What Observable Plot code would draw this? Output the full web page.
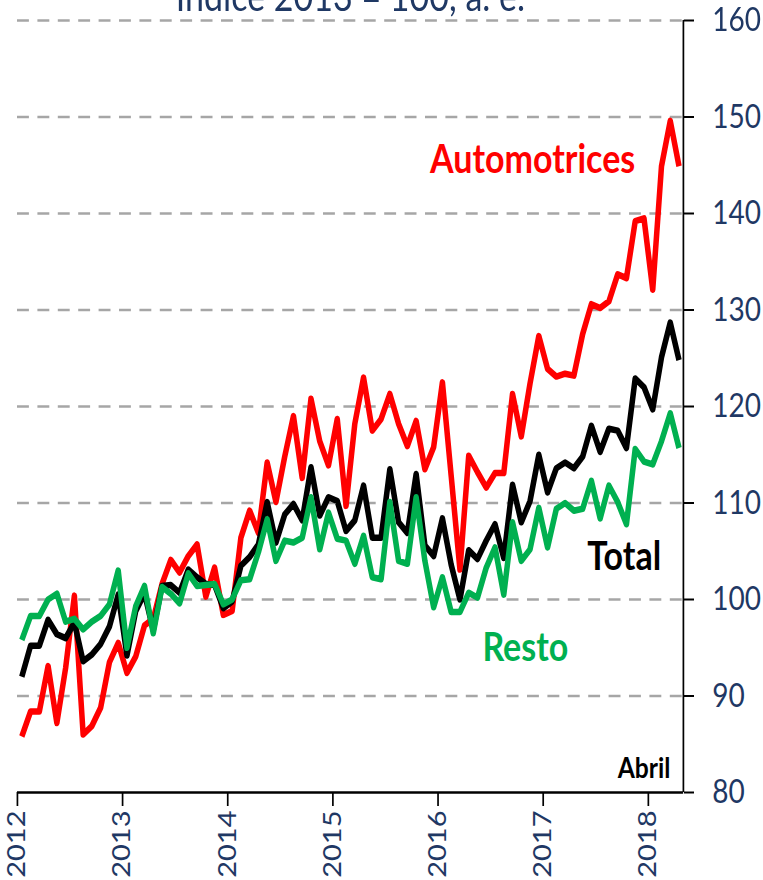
<!DOCTYPE html>
<html>
<head>
<meta charset="utf-8">
<script src="https://cdn.jsdelivr.net/npm/d3@7"></script>
<script src="https://cdn.jsdelivr.net/npm/@observablehq/plot@0.6"></script>
<style>
  html, body { margin: 0; padding: 0; background: white; overflow: hidden; }
  #wrap { transform: scaleX(0.85); transform-origin: 0 0; width: 898px; }
  [aria-label="y-axis tick label"], [aria-label="x-axis tick label"] { fill: #1f3864; }
</style>
</head>
<body>
<div id="wrap"></div>
<script>
const title = "Índice 2013 = 100, a. e.";
const startYear = 2012;
const years = [2012, 2013, 2014, 2015, 2016, 2017, 2018];
const yTicks = [80, 90, 100, 110, 120, 130, 140, 150, 160];
const gridValues = [90, 100, 110, 120, 130, 140, 150, 160];

// Monthly values Jan 2012 – Apr 2018
const automotrices = [
  85.8, 88.4, 88.4, 93.1, 87.2, 92.9, 100.4, 86.0, 86.9, 88.8, 93.5, 95.5,
  92.4, 94.1, 97.3, 98.0, 101.6, 104.1, 102.8, 104.5, 105.7, 100.3, 103.3, 98.4,
  98.8, 106.4, 109.2, 106.9, 114.2, 110.1, 114.8, 119.0, 112.6, 120.8, 116.4, 113.9,
  118.7, 109.7, 118.2, 123.0, 117.5, 118.7, 121.3, 118.2, 115.9, 118.5, 113.5, 115.8,
  122.5, 112.8, 103.1, 114.9, 113.2, 111.6, 113.1, 113.1, 121.3, 116.9, 122.4, 127.3,
  123.9, 123.1, 123.4, 123.2, 127.5, 130.6, 130.2, 130.9, 133.7, 133.3, 139.2, 139.5,
  132.1, 144.9, 149.6, 144.9
];
const total = [
  92.0, 95.2, 95.2, 97.9, 96.4, 96.0, 97.6, 93.6, 94.3, 95.4, 97.2, 100.5,
  94.2, 98.8, 100.6, 96.8, 101.4, 101.5, 100.7, 103.1, 102.3, 101.6, 101.5, 99.1,
  99.8, 103.5, 104.4, 105.7, 110.1, 105.9, 108.8, 109.9, 108.2, 113.7, 108.7, 110.6,
  110.2, 107.1, 108.2, 111.8, 106.4, 106.4, 113.5, 108.0, 106.9, 113.0, 105.6, 104.5,
  108.4, 103.6, 100.0, 105.1, 104.2, 106.1, 107.8, 104.3, 111.9, 108.0, 110.2, 115.0,
  111.1, 113.6, 114.2, 113.6, 114.8, 118.0, 115.3, 117.7, 117.5, 115.7, 122.9, 122.0,
  119.7, 125.1, 128.7, 124.8
];
const resto = [
  95.8, 98.3, 98.3, 100.0, 100.6, 97.7, 98.0, 96.9, 97.7, 98.3, 99.5, 103.0,
  95.0, 99.3, 101.4, 96.5, 101.3, 100.6, 99.6, 102.7, 101.4, 101.5, 101.6, 99.5,
  100.0, 102.0, 102.1, 104.9, 108.3, 104.0, 106.1, 105.9, 106.4, 110.6, 105.2, 109.0,
  106.3, 106.1, 103.7, 106.6, 102.3, 102.1, 110.1, 104.0, 103.7, 110.6, 104.0, 99.2,
  102.3, 98.7, 98.7, 100.7, 100.2, 103.3, 105.4, 100.5, 108.0, 104.0, 105.2, 109.5,
  105.4, 109.4, 110.0, 109.2, 109.4, 112.3, 108.4, 111.8, 110.1, 107.8, 115.6, 114.3,
  114.0, 116.4, 119.3, 115.7
];

const seriesNames = ["Automotrices", "Total", "Resto"];
const seriesColors = ["#ff0000", "#000000", "#00b050"];
const seriesValues = [automotrices, total, resto];

const labelNames = ["Automotrices", "Total", "Resto", "Abril"];
const labelX = [2016.90, 2017.77, 2016.83, 2018.21];
const labelY = [145.5, 104.35, 95.0, 82.5];
const labelColors = ["#ff0000", "#000000", "#00b050", "#000000"];

const nMonths = automotrices.length;
const xMax = startYear + nMonths / 12;
const rows = [];
seriesValues.forEach((vals, s) => vals.forEach((v, i) => rows.push({
  series: seriesNames[s], x: startYear + (i + 0.5) / 12, y: v
})));
const labels = labelNames.map((t, i) => ({text: t, x: labelX[i], y: labelY[i], color: labelColors[i], big: t !== "Abril"}));

const chart = Plot.plot({
  width: 898,
  height: 880,
  marginLeft: 20,
  marginRight: 94.5,
  marginTop: 20,
  marginBottom: 88,
  style: {fontFamily: "Lato, 'Open Sans', sans-serif", background: "white", overflow: "visible"},
  x: {domain: [startYear, xMax]},
  y: {domain: [80, 160]},
  color: {domain: seriesNames, range: seriesColors},
  marks: [
    Plot.ruleY(gridValues, {stroke: "#a6a6a6", strokeWidth: 2.5, strokeDasharray: "14,10"}),
    Plot.line(rows, {x: "x", y: "y", z: "series", stroke: "series", strokeWidth: 6.5, strokeLinejoin: "round", strokeLinecap: "butt"}),
    Plot.ruleX([xMax], {stroke: "black", strokeWidth: 2}),
    Plot.ruleY([80], {stroke: "black", strokeWidth: 2.5}),
    Plot.axisY({anchor: "right", ticks: yTicks, tickSize: 12, tickPadding: 22, fontSize: 33, stroke: "black", fill: "#1f3864", strokeWidth: 2, label: null}),
    Plot.axisX({ticks: years, tickFormat: d => String(d), tickRotate: -90, tickSize: 14, tickPadding: 4, fontSize: 29, stroke: "black", fill: "#1f3864", strokeWidth: 2, label: null}),
    Plot.text([title], {frameAnchor: "top", lineAnchor: "middle", dy: -22, fontSize: 40, fill: "#1f3864"}),
    Plot.text(labels.filter(d => d.big), {x: "x", y: "y", text: "text", fill: "color", fontSize: 40, fontWeight: "bold", textAnchor: "middle"}),
    Plot.text(labels.filter(d => !d.big), {x: "x", y: "y", text: "text", fill: "color", fontSize: 29, fontWeight: "bold", textAnchor: "end"})
  ]
});
document.getElementById("wrap").appendChild(chart);
</script>
</body>
</html>
